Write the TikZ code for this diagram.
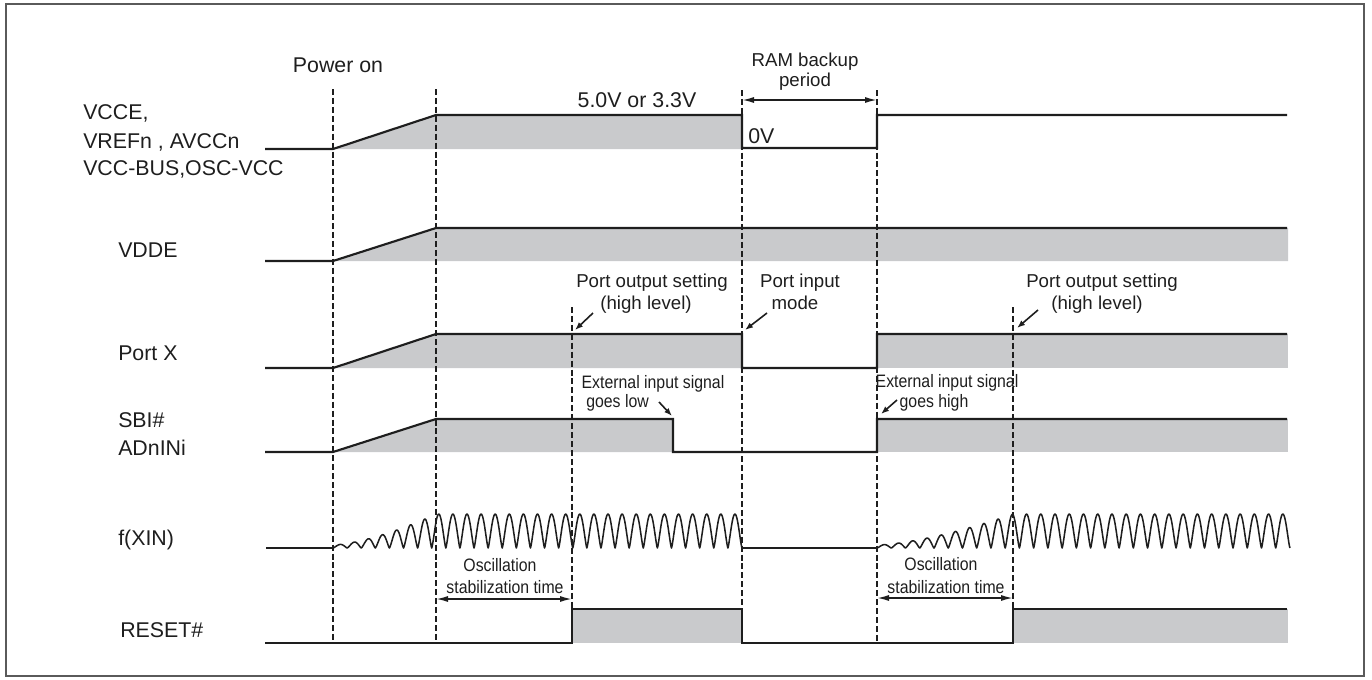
\documentclass[tikz,border=0pt]{standalone}
\usepackage{fontspec}
\setmainfont{Liberation Sans}
\newfontfamily\narrowfont[FakeStretch=0.88]{Liberation Sans}
\usetikzlibrary{arrows.meta}
\definecolor{greyfill}{RGB}{201,202,204}
\definecolor{framec}{RGB}{90,90,90}
\definecolor{inkc}{RGB}{30,30,30}
\begin{document}
\begin{tikzpicture}[x=0.75pt,y=-0.75pt,
  sig/.style={line width=1.6pt, draw=inkc, line join=miter},
  wave/.style={line width=1.15pt, draw=inkc, line join=round},
  band/.style={fill=greyfill, draw=none},
  vdash/.style={line width=1.1pt, dash pattern=on 4.5pt off 2.2pt, draw=inkc},
  rowlab/.style={anchor=base west, inner sep=0, font=\fontsize{16}{18}\selectfont, text=inkc},
  note/.style={anchor=base, inner sep=0, font=\fontsize{14}{16}\selectfont, text=inkc},
  bignote/.style={anchor=base, inner sep=0, font=\fontsize{16}{18}\selectfont, text=inkc},
  narrow/.style={anchor=base, inner sep=0, font=\narrowfont\fontsize{13.5}{15}\selectfont, text=inkc},
  dimarrow/.style={line width=1.2pt, draw=inkc, {Latex[length=9pt,width=4.5pt]}-{Latex[length=9pt,width=4.5pt]}},
  ptr/.style={line width=1.2pt, draw=inkc, -{Latex[length=6pt,width=4.5pt]}},
  declare function={ampone(\t)=min(34,3+31*((\t-333)/103)*sqrt((\t-333)/103));
                    amptwo(\t)=min(34,3+31*((\t-877)/136)*sqrt((\t-877)/136));
                    hump(\p)=(sin(\p)*sin(\p)+0.0001)^0.65-0.0025;}
]
\useasboundingbox (0,0) rectangle (1372,679);
\draw[framec, line width=0.8pt] (6,4) rectangle (1364,676);

% grey bands
\fill[band] (333,149) -- (436,115) -- (742,115) -- (742,149) -- cycle;
\fill[band] (333,261) -- (436,228) -- (1288,228) -- (1288,261) -- cycle;
\fill[band] (333,368) -- (436,334) -- (742,334) -- (742,368) -- cycle;
\fill[band] (877,334) rectangle (1288,368);
\fill[band] (333,452) -- (436,419) -- (673,419) -- (673,452) -- cycle;
\fill[band] (877,419) rectangle (1288,452);
\fill[band] (572,609) rectangle (742,643);
\fill[band] (1013,609) rectangle (1288,643);

% dashed time markers
\coordinate (d1t) at (333,89);  \coordinate (d1b) at (333,643);
\coordinate (d2t) at (436,89);  \coordinate (d2b) at (436,643);
\coordinate (d3t) at (572,307); \coordinate (d3b) at (572,609);
\coordinate (d4t) at (742,90);  \coordinate (d4b) at (742,643);
\coordinate (d5t) at (877,90);  \coordinate (d5b) at (877,643);
\coordinate (d6t) at (1013,307);\coordinate (d6b) at (1013,609);
\draw[vdash] (d1t) -- (d1b);
\draw[vdash] (d2t) -- (d2b);
\draw[vdash] (d3t) -- (d3b);
\draw[vdash] (d4t) -- (d4b);
\draw[vdash] (d5t) -- (d5b);
\draw[vdash] (d6t) -- (d6b);

% signals
\draw[sig] (265,149) -- (333,149) -- (436,115) -- (742,115) -- (742,148) -- (877,148) -- (877,115) -- (1287,115);
\draw[sig] (265,261) -- (333,261) -- (436,228) -- (1287,228);
\draw[sig] (265,368) -- (333,368) -- (436,334) -- (742,334) -- (742,368) -- (877,368) -- (877,334) -- (1287,334);
\draw[sig] (265,452) -- (333,452) -- (436,419) -- (673,419) -- (673,452) -- (877,452) -- (877,419) -- (1287,419);
\draw[sig] (265,643) -- (572,643) -- (572,609) -- (742,609) -- (742,643) -- (1013,643) -- (1013,609) -- (1287,609);
\draw[wave] (266,548) -- (333,548)
  -- plot[domain=333:742, samples=900] (\x,{548-ampone(\x)*hump(12.7632*(\x-333))})
  -- (877,548)
  -- plot[domain=877:1290, samples=900] (\x,{548-amptwo(\x)*hump(12.6404*(\x-877))});

% row labels
\node[rowlab] (l1) at (83,119) {VCCE,};
\node[rowlab] (l2) at (83,148) {VREFn , AVCCn};
\node[rowlab] (l3) at (83,175) {VCC-BUS,OSC-VCC};
\node[rowlab] (l4) at (118,257) {VDDE};
\node[rowlab] (l5) at (118,360) {Port X};
\node[rowlab] (l6) at (118,427) {SBI\#};
\node[rowlab] (l7) at (118,455) {ADnINi};
\node[rowlab] (l8) at (118,545) {f(XIN)};
\node[rowlab] (l9) at (120,637) {RESET\#};

% annotations
\node[bignote] (pon) at (338,72) {Power on};
\node[bignote] (volt) at (637,107) {5.0V or 3.3V};
\node[bignote, anchor=base west] (zv) at (748,143) {0V};
\node[note] (ram1) at (805,66) {RAM backup};
\node[note] (ram2) at (805,86) {period};
\draw[dimarrow] (742,100) -- (877,100);

\node[note] (po1a) at (652,287) {Port output setting};
\node[note] (po1b) at (646,309) {(high level)};
\node[note] (pia) at (800,287) {Port input};
\node[note] (pib) at (795,309) {mode};
\node[note] (po2a) at (1102,287) {Port output setting};
\node[note] (po2b) at (1097,309) {(high level)};
\coordinate (a1s) at (593,313); \coordinate (a1e) at (575,330);
\coordinate (a2s) at (767,313); \coordinate (a2e) at (745,330);
\coordinate (a3s) at (1038,310); \coordinate (a3e) at (1017,328);
\draw[ptr] (a1s) -- (a1e);
\draw[ptr] (a2s) -- (a2e);
\draw[ptr] (a3s) -- (a3e);

\node[narrow] (ex1a) at (653,388) {External input signal};
\node[narrow, anchor=base west] (ex1b) at (586,407) {goes low};
\node[narrow] (ex2a) at (947,387) {External input signal};
\node[narrow] (ex2b) at (934,407) {goes high};
\coordinate (a4s) at (659,402); \coordinate (a4e) at (672,416);
\coordinate (a5s) at (897,400); \coordinate (a5e) at (881,414);
\draw[ptr] (a4s) -- (a4e);
\draw[ptr] (a5s) -- (a5e);

\node[narrow] (os1a) at (500,571) {Oscillation};
\node[narrow] (os1b) at (505,593) {stabilization time};
\draw[dimarrow] (436,599) -- (572,599);
\node[narrow] (os2a) at (941,570) {Oscillation};
\node[narrow] (os2b) at (946,593) {stabilization time};
\draw[dimarrow] (877,598) -- (1013,598);
\end{tikzpicture}
\end{document}
